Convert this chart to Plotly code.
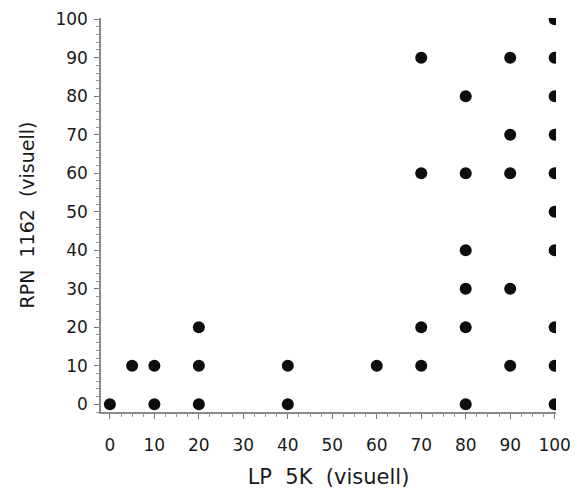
import plotly.graph_objects as go

# LP 5K vs RPN 1162 visual scores
lp_5k = [0, 5, 10, 10, 20, 20, 20, 40, 40, 60,
         70, 70, 70, 70,
         80, 80, 80, 80, 80, 80,
         90, 90, 90, 90, 90,
         100, 100, 100, 100, 100, 100, 100, 100, 100, 100]
rpn_1162 = [0, 10, 10, 0, 20, 10, 0, 10, 0, 10,
            90, 60, 20, 10,
            80, 60, 40, 30, 20, 0,
            90, 70, 60, 30, 10,
            100, 90, 80, 70, 60, 50, 40, 20, 10, 0]
tick_vals = [0, 10, 20, 30, 40, 50, 60, 70, 80, 90, 100]

FONT = "DejaVu Sans, Arial, sans-serif"
INK = "#1a1a1a"

fig = go.Figure(go.Scatter(
    x=lp_5k, y=rpn_1162, mode="markers",
    marker=dict(color="#0d0d0d", size=12, symbol="circle"),
    showlegend=False,
))

axis_common = dict(
    tickvals=tick_vals,
    ticks="outside", ticklen=5, tickwidth=1, tickcolor="#777777",
    showline=True, linecolor="#8a8a8a", linewidth=1.5,
    showgrid=False, zeroline=False, automargin=False,
    tickfont=dict(family=FONT, size=17, color=INK),
)

fig.update_layout(
    width=581, height=490,
    margin=dict(l=101, r=25, t=18, b=78),
    paper_bgcolor="white", plot_bgcolor="white",
    xaxis=dict(range=[-2, 100.3], ticklabelstandoff=12,
               minor=dict(dtick=2.5, ticks="outside", ticklen=3, tickcolor="#999999", showgrid=False),
               title=dict(text="LP\u00a0\u00a05K\u00a0\u00a0(visuell)", standoff=15,
                          font=dict(family=FONT, size=21, color=INK)),
               **axis_common),
    yaxis=dict(range=[-2, 100.3], ticklabelstandoff=3,
               minor=dict(dtick=2, ticks="outside", ticklen=3, tickcolor="#999999", showgrid=False),
               title=dict(text="RPN\u00a0\u00a01162\u00a0\u00a0(visuell)", standoff=16,
                          font=dict(family=FONT, size=19, color=INK)),
               **axis_common),
)

fig.write_html("out.html")
